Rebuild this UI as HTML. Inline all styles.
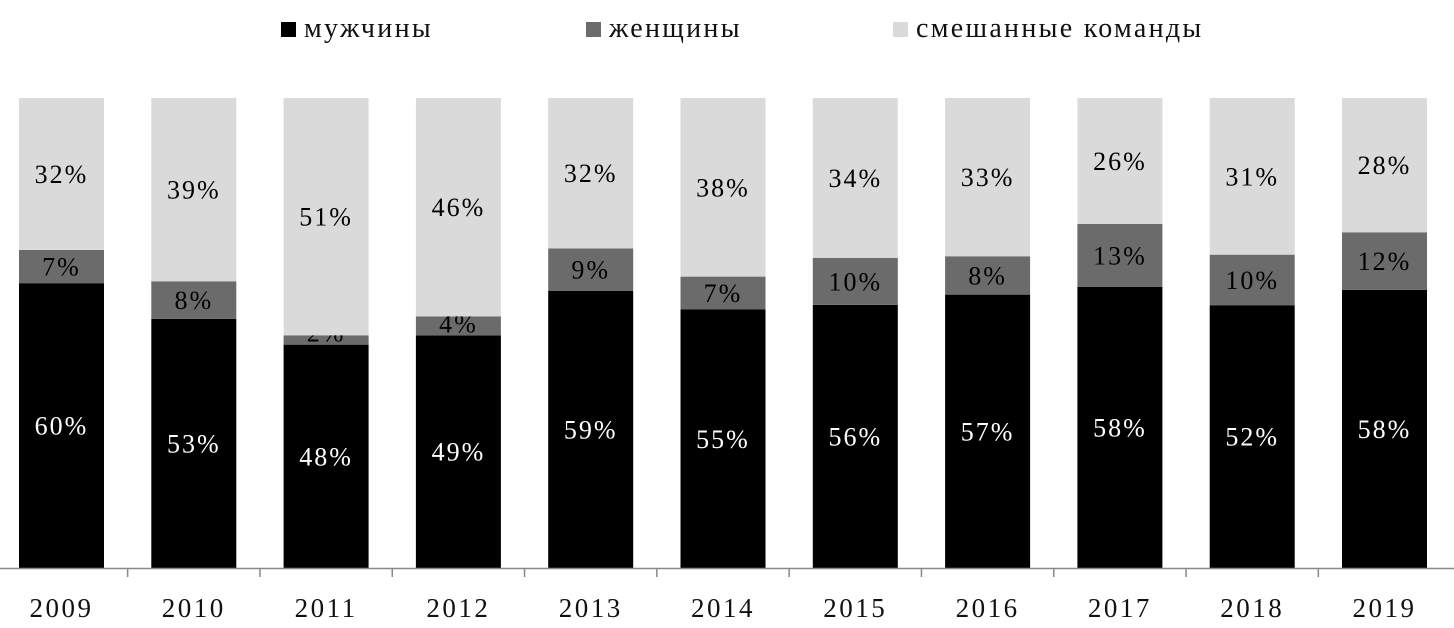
<!DOCTYPE html>
<html><head><meta charset="utf-8"><style>
body{margin:0;background:#fff;width:1454px;height:623px;overflow:hidden;font-family:"Liberation Serif",serif}
</style></head><body>
<svg width="1454" height="623" xmlns="http://www.w3.org/2000/svg">
<g id="legend"></g>
<g id="plot"></g>
</svg>
<script>
const years=["2009","2010","2011","2012","2013","2014","2015","2016","2017","2018","2019"];
const men=[60,53,48,49,59,55,56,57,58,52,58];
const women=[7,8,2,4,9,7,10,8,13,10,12];
const mixed=[32,39,51,46,32,38,34,33,26,31,28];
const seriesNames=["мужчины","женщины","смешанные команды"];
const NS="http://www.w3.org/2000/svg";
const colors=["#000","#6b6b6b","#dadada"];
const textColors=["#fff","#000","#000"];
const top0=98,bottom0=568,pitch=132.3,firstCenter=61.5,barW=85;
const xC=i=>firstCenter+i*pitch;
const yS=f=>bottom0-f*(bottom0-top0);
function el(t,a,p){const e=document.createElementNS(NS,t);for(const k in a)e.setAttribute(k,a[k]);p.appendChild(e);return e;}
const plot=document.getElementById('plot');
const legend=document.getElementById('legend');
const series=[men,women,mixed];
years.forEach((y,i)=>{
  const total=men[i]+women[i]+mixed[i];
  let cum=0;
  series.forEach((s,k)=>{
    const f0=cum/total,f1=(cum+s[i])/total;cum+=s[i];
    const h=yS(f0)-yS(f1);
    const r=el('rect',{x:xC(i)-barW/2,y:yS(f1),width:barW,height:h,fill:colors[k]},plot);
    
    
    const ty=h<20?yS(f0)-3:(yS(f0)+yS(f1))/2+9;
    const t=el('text',{x:xC(i),y:ty,'text-anchor':'middle','font-size':26,'letter-spacing':2,fill:textColors[k]},plot);
    t.textContent=s[i]+'%';
    
    
  });
  const yl=el('text',{x:xC(i),y:617,'text-anchor':'middle','font-size':27,fill:'#111','letter-spacing':'2.5'},plot);
  yl.textContent=y;
  
  
});
const ax=el('line',{x1:0,x2:1454,y1:568.5,y2:568.5,stroke:'#888','stroke-width':1.5},plot);


for(let i=1;i<years.length;i++){
  const tk=el('line',{x1:xC(i)-pitch/2,x2:xC(i)-pitch/2,y1:568,y2:577,stroke:'#888','stroke-width':1.5},plot);
  
  
}
const legX=[281,586,893];
seriesNames.forEach((n,k)=>{
  const g=el('g',{},legend);
  
  
  el('rect',{x:legX[k],y:22,width:15,height:15,fill:colors[k]},g);
  const t=el('text',{x:legX[k]+23,y:37,'font-size':28,'letter-spacing':2.3,fill:'#111'},g);
  t.textContent=n;
});
</script>
</body></html>
